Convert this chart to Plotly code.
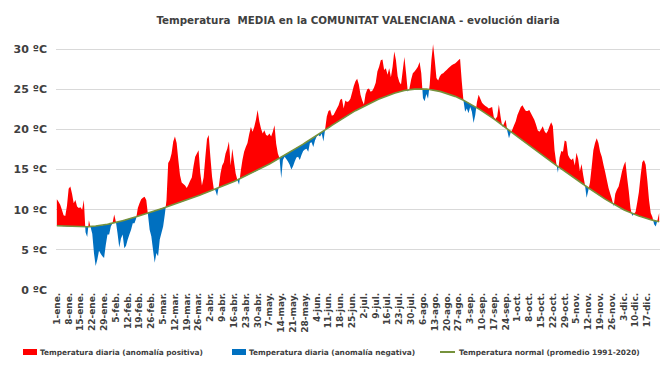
import numpy as np
import plotly.graph_objects as go

# Daily mean temperature (ºC), 1-ene. .. 24-dic.
temp = [
    11.3, 11.0, 10.6, 10.0, 9.3, 9.2, 10.5,
    12.6, 12.9, 12.0, 10.8, 11.2, 10.4, 10.2,
    10.3, 10.0, 11.2, 7.2, 6.6, 8.7, 7.8,
    7.0, 4.6, 3.0, 3.8, 4.9, 4.5, 4.2,
    4.0, 5.6, 6.9, 6.9, 7.9, 8.3, 9.4,
    8.5, 7.0, 5.3, 6.4, 6.9, 5.2, 5.5,
    6.3, 6.9, 7.5, 8.3, 8.3, 8.9, 10.2,
    10.8, 11.3, 11.5, 11.6, 11.2, 9.4, 7.5,
    6.7, 5.0, 3.4, 4.6, 4.2, 6.3, 7.1,
    7.9, 9.4, 11.2, 15.8, 16.2, 17.0, 18.5,
    19.1, 18.3, 16.2, 14.3, 13.4, 13.2, 13.0,
    12.7, 13.1, 13.6, 14.0, 15.4, 16.6, 17.0,
    17.4, 14.6, 13.0, 14.0, 16.5, 18.8, 19.3,
    16.6, 14.1, 12.6, 12.4, 11.7, 12.9, 14.5,
    15.5, 15.9, 17.0, 17.6, 18.5, 15.5, 17.6,
    16.0, 14.5, 13.7, 13.1, 14.8, 16.2, 17.2,
    17.8, 18.3, 19.4, 20.3, 19.7, 20.3, 21.2,
    22.4, 21.0, 20.1, 19.5, 19.9, 19.3, 19.2,
    19.5, 19.1, 19.7, 20.5, 18.2, 17.0, 16.4,
    13.9, 16.2, 16.6, 16.3, 16.0, 15.6, 15.0,
    15.4, 16.0, 16.5, 16.6, 16.2, 16.8, 17.3,
    17.5, 17.6, 17.2, 18.3, 18.4, 17.8, 18.6,
    19.1, 19.3, 19.1, 19.5, 18.5, 20.0, 21.6,
    22.3, 22.4, 21.7, 21.8, 22.2, 22.6, 23.0,
    23.7, 23.8, 22.6, 23.6, 23.4, 23.5, 23.8,
    24.6, 25.4, 26.0, 26.3, 25.6, 24.3, 23.6,
    23.1, 24.4, 25.0, 25.1, 24.7, 24.8, 25.2,
    25.8, 27.2, 27.8, 28.6, 28.7, 27.4, 27.6,
    26.8, 27.6, 26.5, 27.8, 29.7, 28.6, 26.6,
    25.9, 25.6, 27.3, 29.0, 27.0, 24.7, 25.1,
    26.2, 27.0, 27.2, 27.5, 27.8, 28.4, 27.0,
    23.9, 23.5, 24.4, 23.8, 25.6, 28.6, 30.6,
    28.6, 26.4, 26.1, 26.6, 26.9, 27.0, 27.2,
    27.4, 27.6, 27.8, 28.0, 28.1, 28.2, 28.4,
    28.6, 28.8, 26.0, 23.6, 22.2, 22.6, 22.0,
    22.8, 22.2, 20.8, 21.8, 23.4, 24.3, 23.8,
    23.3, 23.1, 22.9, 22.8, 22.6, 22.7, 22.8,
    21.5, 21.3, 21.6, 23.1, 21.6, 20.3, 20.7,
    21.2, 19.8, 18.9, 19.6, 20.0, 20.5, 21.0,
    21.8, 22.3, 22.8, 23.0, 22.6, 22.3, 22.3,
    22.4, 22.0, 21.6, 21.2, 20.6, 19.9, 19.7,
    20.0, 20.4, 19.8, 19.5, 19.8, 20.4, 20.9,
    20.4, 17.4, 15.8, 14.6, 16.5, 17.3, 17.2,
    18.6, 18.5, 16.8, 16.4, 16.2, 16.4, 15.5,
    17.1, 16.3, 14.8, 15.7, 14.3, 13.1, 11.5,
    12.4, 13.4, 15.3, 17.4, 18.3, 18.9, 18.3,
    17.2, 16.6, 15.6, 14.7, 13.7, 12.7, 12.0,
    11.3, 10.4, 12.0, 12.5, 12.9, 13.8, 14.8,
    15.5, 16.0, 14.0, 12.3, 10.2, 9.2, 9.5,
    9.7, 10.9, 12.2, 14.2, 15.9, 16.2, 15.6,
    13.6, 11.2, 9.6, 9.1, 8.2, 7.9, 8.7,
    9.6,
]

# Normal daily temperature (promedio 1991-2020), same days
normal = [
    8.00, 7.99, 7.97, 7.96, 7.94, 7.93, 7.91,
    7.90, 7.89, 7.89, 7.88, 7.87, 7.86, 7.86,
    7.85, 7.86, 7.86, 7.87, 7.88, 7.89, 7.89,
    7.90, 7.93, 7.96, 7.99, 8.01, 8.04, 8.07,
    8.10, 8.14, 8.19, 8.23, 8.27, 8.31, 8.36,
    8.40, 8.46, 8.51, 8.57, 8.63, 8.69, 8.74,
    8.80, 8.86, 8.93, 8.99, 9.06, 9.12, 9.19,
    9.25, 9.31, 9.38, 9.44, 9.51, 9.57, 9.64,
    9.70, 9.77, 9.84, 9.91, 9.99, 10.06, 10.13,
    10.20, 10.27, 10.34, 10.41, 10.49, 10.56, 10.63,
    10.70, 10.77, 10.84, 10.91, 10.99, 11.06, 11.13,
    11.20, 11.28, 11.36, 11.44, 11.51, 11.59, 11.67,
    11.75, 11.83, 11.91, 11.99, 12.06, 12.14, 12.22,
    12.30, 12.39, 12.47, 12.56, 12.64, 12.73, 12.81,
    12.90, 12.99, 13.07, 13.16, 13.24, 13.33, 13.41,
    13.50, 13.60, 13.70, 13.80, 13.90, 14.00, 14.10,
    14.20, 14.30, 14.40, 14.50, 14.60, 14.70, 14.80,
    14.90, 15.01, 15.13, 15.24, 15.36, 15.47, 15.59,
    15.70, 15.81, 15.93, 16.04, 16.16, 16.27, 16.39,
    16.50, 16.63, 16.76, 16.89, 17.01, 17.14, 17.27,
    17.40, 17.53, 17.66, 17.79, 17.91, 18.04, 18.17,
    18.30, 18.43, 18.56, 18.69, 18.81, 18.94, 19.07,
    19.20, 19.34, 19.49, 19.63, 19.77, 19.91, 20.06,
    20.20, 20.34, 20.49, 20.63, 20.77, 20.91, 21.06,
    21.20, 21.33, 21.46, 21.59, 21.71, 21.84, 21.97,
    22.10, 22.21, 22.33, 22.44, 22.56, 22.67, 22.79,
    22.90, 23.00, 23.10, 23.20, 23.30, 23.40, 23.50,
    23.60, 23.69, 23.77, 23.86, 23.94, 24.03, 24.11,
    24.20, 24.27, 24.34, 24.41, 24.49, 24.56, 24.63,
    24.70, 24.74, 24.79, 24.83, 24.87, 24.91, 24.96,
    25.00, 25.01, 25.01, 25.02, 25.03, 25.04, 25.04,
    25.05, 25.03, 25.01, 24.99, 24.96, 24.94, 24.92,
    24.90, 24.84, 24.79, 24.73, 24.67, 24.61, 24.56,
    24.50, 24.42, 24.34, 24.26, 24.19, 24.11, 24.03,
    23.95, 23.84, 23.74, 23.63, 23.52, 23.41, 23.31,
    23.20, 23.07, 22.94, 22.81, 22.69, 22.56, 22.43,
    22.30, 22.16, 22.01, 21.87, 21.73, 21.59, 21.44,
    21.30, 21.14, 20.99, 20.83, 20.67, 20.51, 20.36,
    20.20, 20.04, 19.89, 19.73, 19.57, 19.41, 19.26,
    19.10, 18.94, 18.79, 18.63, 18.47, 18.31, 18.16,
    18.00, 17.84, 17.69, 17.53, 17.37, 17.21, 17.06,
    16.90, 16.74, 16.59, 16.43, 16.27, 16.11, 15.96,
    15.80, 15.66, 15.51, 15.37, 15.23, 15.09, 14.94,
    14.80, 14.66, 14.51, 14.37, 14.23, 14.09, 13.94,
    13.80, 13.64, 13.49, 13.33, 13.17, 13.01, 12.86,
    12.70, 12.56, 12.41, 12.27, 12.13, 11.99, 11.84,
    11.70, 11.57, 11.44, 11.31, 11.19, 11.06, 10.93,
    10.80, 10.69, 10.57, 10.46, 10.34, 10.23, 10.11,
    10.00, 9.91, 9.81, 9.72, 9.63, 9.54, 9.44,
    9.35, 9.28, 9.21, 9.14, 9.06, 8.99, 8.92,
    8.85, 8.80, 8.75, 8.70, 8.65, 8.60, 8.55,
    8.50,
]

tick_labels = [
    "1-ene.", "8-ene.", "15-ene.", "22-ene.", "29-ene.",
    "5-feb.", "12-feb.", "19-feb.", "26-feb.",
    "5-mar.", "12-mar.", "19-mar.", "26-mar.",
    "2-abr.", "9-abr.", "16-abr.", "23-abr.", "30-abr.",
    "7-may.", "14-may.", "21-may.", "28-may.",
    "4-jun.", "11-jun.", "18-jun.", "25-jun.",
    "2-jul.", "9-jul.", "16-jul.", "23-jul.", "30-jul.",
    "6-ago.", "13-ago.", "20-ago.", "27-ago.",
    "3-sep.", "10-sep.", "17-sep.", "24-sep.",
    "1-oct.", "8-oct.", "15-oct.", "22-oct.", "29-oct.",
    "5-nov.", "12-nov.", "19-nov.", "26-nov.",
    "3-dic.", "10-dic.", "17-dic.",
]
y_ticks = [0, 5, 10, 15, 20, 25, 30]
y_tick_labels = ["0 ºC", "5 ºC", "10 ºC", "15 ºC", "20 ºC", "25 ºC", "30 ºC"]

series_names = [
    "Temperatura diaria (anomalía positiva)",
    "Temperatura diaria (anomalía negativa)",
    "Temperatura normal (promedio 1991-2020)",
]

RED = "#FF0000"
BLUE = "#0070C0"
GREEN = "#76923C"
TXT = "#404040"
FONT = "DejaVu Sans"

W, H = 661, 369
ML, MR, MT, MB = 56, 1, 33, 79
PW, PH = W - ML - MR, H - MT - MB


def px_x(px):
    return (px - ML) / PW


def px_y(py):
    return (H - MB - py) / PH


t = np.array(temp, dtype=float)
n = np.array(normal, dtype=float)
x = np.arange(len(t), dtype=float)

# insert the exact crossing points so both fills meet the normal cleanly
xs, ts, ns = [x[0]], [t[0]], [n[0]]
for i in range(len(t) - 1):
    d0 = t[i] - n[i]
    d1 = t[i + 1] - n[i + 1]
    if d0 * d1 < 0:
        f = d0 / (d0 - d1)
        nc = n[i] + f * (n[i + 1] - n[i])
        xs.append(x[i] + f)
        ts.append(nc)
        ns.append(nc)
    xs.append(x[i + 1])
    ts.append(t[i + 1])
    ns.append(n[i + 1])
xs = np.array(xs)
ts = np.array(ts)
ns = np.array(ns)
upper = np.maximum(ts, ns)
lower = np.minimum(ts, ns)

fig = go.Figure()
fig.add_trace(go.Scatter(x=xs, y=ns, mode="lines", line=dict(width=0),
                         showlegend=False, hoverinfo="skip"))
fig.add_trace(go.Scatter(x=xs, y=upper, mode="none", fill="tonexty",
                         fillcolor=RED, name=series_names[0]))
fig.add_trace(go.Scatter(x=xs, y=ns, mode="lines", line=dict(width=0),
                         showlegend=False, hoverinfo="skip"))
fig.add_trace(go.Scatter(x=xs, y=lower, mode="none", fill="tonexty",
                         fillcolor=BLUE, name=series_names[1]))
fig.add_trace(go.Scatter(x=x, y=n, mode="lines",
                         line=dict(color=GREEN, width=1.6),
                         name=series_names[2]))

# legend row drawn below the axis labels: swatch + text per series
legend_y = 352
legend_items = [
    (23, 38, "rect", RED),
    (232, 247, "rect", BLUE),
    (440, 457, "line", GREEN),
]
shapes = []
annotations = []
for (x0, xt, kind, col), name in zip(legend_items, series_names):
    if kind == "rect":
        shapes.append(dict(type="rect", xref="paper", yref="paper",
                           x0=px_x(x0), x1=px_x(x0 + 14),
                           y0=px_y(legend_y + 3), y1=px_y(legend_y - 3),
                           fillcolor=col, line=dict(width=0)))
    else:
        shapes.append(dict(type="line", xref="paper", yref="paper",
                           x0=px_x(x0), x1=px_x(x0 + 15),
                           y0=px_y(legend_y), y1=px_y(legend_y),
                           line=dict(color=col, width=2)))
    annotations.append(dict(xref="paper", yref="paper", x=px_x(xt),
                            y=px_y(legend_y), xanchor="left", yanchor="middle",
                            text="<b>%s</b>" % name, showarrow=False,
                            font=dict(size=7.4, family=FONT, color=TXT)))

fig.update_layout(
    width=W, height=H,
    margin=dict(l=ML, r=MR, t=MT, b=MB),
    paper_bgcolor="white", plot_bgcolor="white",
    font=dict(family=FONT, color=TXT),
    title=dict(
        text="<b>Temperatura  MEDIA en la COMUNITAT VALENCIANA - evolución diaria</b>",
        xref="paper", x=0.5, xanchor="center",
        yref="container", y=1 - 20 / H, yanchor="middle",
        font=dict(size=10.3, family=FONT, color=TXT),
    ),
    showlegend=False,
    shapes=shapes,
    annotations=annotations,
    xaxis=dict(
        range=[-0.5, len(t) - 0.5],
        tickmode="array",
        tickvals=list(range(0, 7 * len(tick_labels), 7)),
        ticktext=["<b>%s</b>" % s for s in tick_labels],
        tickangle=-90,
        tickfont=dict(size=9, family=FONT, color=TXT),
        showgrid=False, zeroline=False, showline=False, ticks="",
        automargin=False,
    ),
    yaxis=dict(
        range=[0, 32],
        tickmode="array",
        tickvals=y_ticks,
        ticktext=["<b>%s</b>" % s for s in y_tick_labels],
        tickfont=dict(size=11, family=FONT, color=TXT),
        showgrid=True, gridcolor="#D9D9D9", gridwidth=1,
        zeroline=False, showline=False, ticks="",
        ticklabelstandoff=8, automargin=False,
    ),
)

fig.write_html("out.html")
